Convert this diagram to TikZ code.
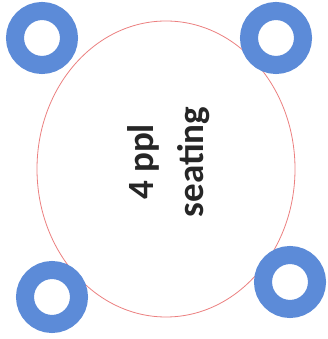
\documentclass[tikz,border=0pt]{standalone}
\usepackage{fontspec}
\newfontfamily\carlito{Carlito}
\usepackage{tikz}
\usetikzlibrary{shapes.geometric, positioning}
\definecolor{chairblue}{RGB}{92,139,216}
\definecolor{tableline}{RGB}{236,128,128}
\tikzset{
	chair/.style={circle, draw=chairblue, line width=18pt, minimum size=54pt, inner sep=0pt}
}
\tikzset{
	roundtable/.style={ellipse, draw=tableline, line width=0.8pt, inner sep=0pt}
}
\tikzset{
	bigtext/.style={font=\carlito\bfseries\fontsize{37}{50}\selectfont, text=black!85}
}
\begin{document}
\begin{tikzpicture}[x=1pt,y=1pt]
      \useasboundingbox (0,0) rectangle (327,339);
      \fill[white] (0,0) rectangle (327,339);

      % the table
      \node[roundtable, minimum width=258pt, minimum height=296pt] (tbl) at (166,170) {};
      \node[bigtext, rotate=90, align=center] (lbl) at (169,177) {4 ppl\\seating};

      % chairs round it
      \node[chair] (c1) at (42,301) {};
      \node[chair] (c2) at (276,301) {};
      \node[chair] (c3) at (52,42) {};
      \node[chair] (c4) at (290,57) {};
    \end{tikzpicture}
\end{document}
